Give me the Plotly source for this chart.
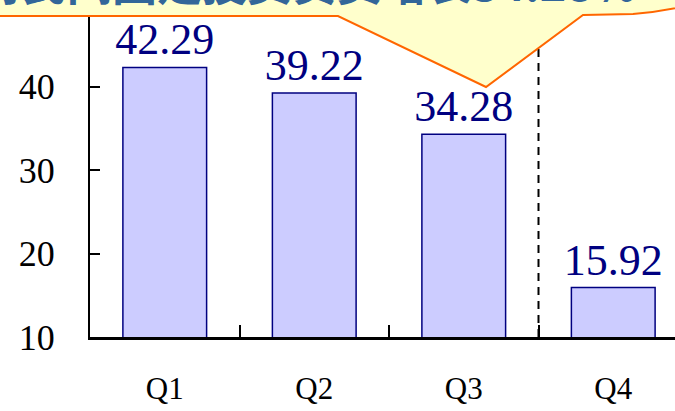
import plotly.graph_objects as go

# data
quarters = ["Q1", "Q2", "Q3", "Q4"]
values = [42.29, 39.22, 34.28, 15.92]
value_labels = ["42.29", "39.22", "34.28", "15.92"]
y_ticks = [10, 20, 30, 40, 50]
callout_text = "对民间固定投资贷资增长34.28%"

W, H = 675, 411
M_L, M_R, M_T, M_B = 90, 0, 0, 74
PW, PH = W - M_L - M_R, H - M_T - M_B


def px_x(px):
    return (px - M_L) / PW


def px_y(py):
    return (H - M_B - py) / PH


fig = go.Figure()
fig.add_trace(go.Bar(
    x=quarters,
    y=values,
    width=0.56,
    marker=dict(color="#CCCCFF", line=dict(color="#000080", width=1.5)),
    text=value_labels,
    textposition="outside",
    constraintext="none",
    textfont=dict(family="Liberation Serif", size=44, color="#000080"),
    cliponaxis=False,
))

# dashed separator between Q3 and Q4
fig.add_shape(type="line", xref="x", yref="paper", x0=2.5, x1=2.5, y0=0, y1=1,
              line=dict(color="black", width=2, dash="8px,6px"), layer="above")

# callout bubble (cut off at the top of the image)
path = (
    f"M {px_x(-20)},{px_y(-80)} L {px_x(-20)},{px_y(16)} L {px_x(338)},{px_y(16)} "
    f"L {px_x(486)},{px_y(87)} L {px_x(583)},{px_y(15)} L {px_x(633)},{px_y(14)} "
    f"Q {px_x(660)},{px_y(12)} {px_x(690)},{px_y(5)} L {px_x(690)},{px_y(-80)} Z"
)
fig.add_shape(type="path", xref="paper", yref="paper", path=path,
              fillcolor="#FFFFCC", line=dict(color="#FF6600", width=2), layer="above")
fig.add_annotation(
    text=f"<b>{callout_text}</b>",
    xref="paper", yref="paper",
    x=px_x(-25), y=px_y(-18),
    xanchor="left", yanchor="middle",
    showarrow=False,
    font=dict(family="Noto Sans CJK SC", size=45, color="#336699"),
)

fig.update_xaxes(
    range=[-0.5, -0.5 + PW / 149.5],
    showline=True, linecolor="black", linewidth=2.5,
    ticks="inside", tickson="boundaries", ticklen=12, tickwidth=2, tickcolor="black",
    tickfont=dict(family="Liberation Serif", size=31, color="black"),
    ticklabelstandoff=22,
    showgrid=False, zeroline=False,
)
fig.update_yaxes(
    range=[10, 10 + PH / 8.35],
    tickvals=y_ticks,
    showline=True, linecolor="black", linewidth=2,
    ticks="inside", ticklen=10, tickwidth=2, tickcolor="black",
    tickfont=dict(family="Liberation Serif", size=36, color="black"),
    ticklabelstandoff=26,
    showgrid=False, zeroline=False,
)
fig.update_layout(
    width=W, height=H,
    margin=dict(l=M_L, r=M_R, t=M_T, b=M_B, autoexpand=False),
    plot_bgcolor="white", paper_bgcolor="white",
    showlegend=False,
    bargap=0.44,
)

fig.write_html("out.html", config={"displayModeBar": False},
               post_script="document.body.style.margin='0';")
